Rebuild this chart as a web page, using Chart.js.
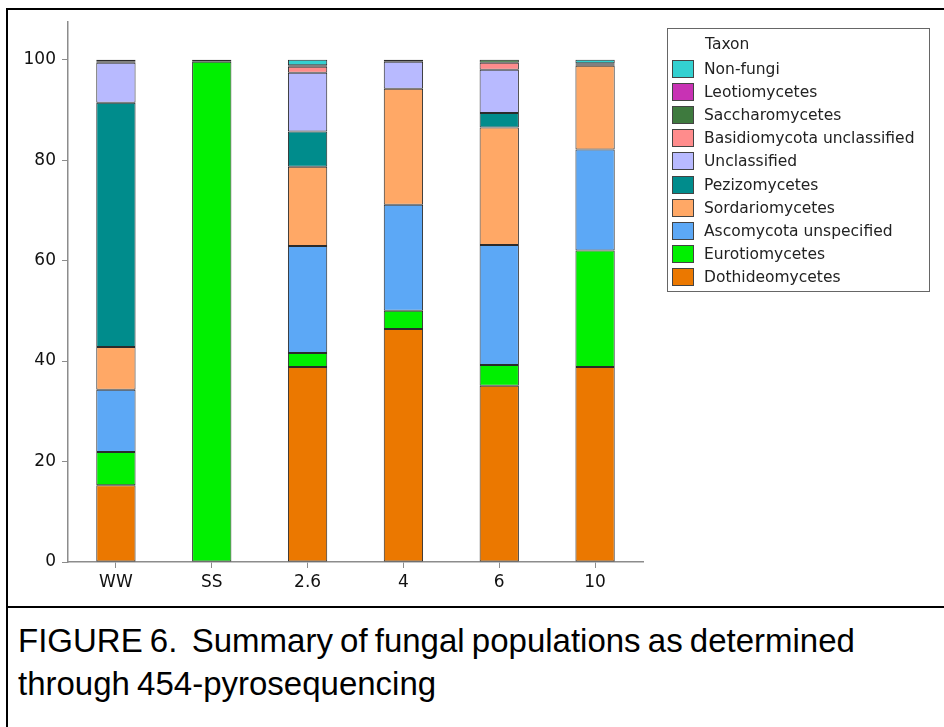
<!DOCTYPE html>
<html>
<head>
<meta charset="utf-8">
<script src="https://cdn.jsdelivr.net/npm/chart.js@4.4.1/dist/chart.umd.min.js"></script>
<style>
  body { margin: 0; background: #fff; width: 944px; height: 727px; overflow: hidden; position: relative; }
  #frame { position: absolute; left: 6px; top: 8px; width: 960px; height: 760px; border: 2px solid #000; box-sizing: border-box; }
  #divider { position: absolute; left: 6px; top: 606px; width: 960px; border-top: 2px solid #000; }
  #wrap { position: absolute; left: 0; top: 0; width: 944px; height: 606px; }
  #legend { position: absolute; left: 667px; top: 28px; width: 263px; height: 264px; border: 1px solid #666; box-sizing: border-box; font-family: "DejaVu Sans", Verdana, sans-serif; font-size: 15.5px; color: #222; }
  #legend .title { position: absolute; left: 37px; top: 6px; }
  #legend .row { position: absolute; left: 4px; height: 18px; }
  #legend .sw { position: absolute; left: 0; top: 0; width: 22px; height: 18px; border: 1px solid #444; box-sizing: border-box; }
  #legend .lb { position: absolute; left: 32px; top: 0; white-space: nowrap; line-height: 18px; }
  #caption { position: absolute; left: 18px; top: 619px; font-family: "Liberation Sans", Arial, sans-serif; font-size: 33px; line-height: 43px; word-spacing: -2px; color: #000; }
</style>
</head>
<body>
<div id="frame"></div>
<div id="divider"></div>
<div id="wrap"><canvas id="chart"></canvas></div>
<div id="legend"></div>
<div id="caption">FIGURE 6.&nbsp; Summary of fungal populations as determined<br>through 454-pyrosequencing</div>
<script>
// categories
const samples = ['WW', 'SS', '2.6', '4', '6', '10'];

// percent per taxon, bottom of stack first
const dothideomycetes = [15.3, null, 38.8, 46.4, 35.1, 38.8];
const eurotiomycetes = [6.6, 99.6, 2.8, 3.6, 4.1, 23.2];
const ascomycotaUnspecified = [12.4, null, 21.3, 21.1, 23.9, 20.1];
const sordariomycetes = [8.5, null, 15.8, 23.1, 23.4, 16.7];
const pezizomycetes = [48.6, null, 7.0, null, 2.9, 0.3];
const unclassified = [8.0, null, 11.7, 5.4, 8.6, null];
const basidiomycotaUnclassified = [null, null, 1.2, null, 1.4, null];
const saccharomycetes = [0.2, 0.4, 0.3, 0.4, 0.6, 0.2];
const leotiomycetes = [0.4, null, null, null, null, null];
const nonFungi = [null, null, 1.1, null, null, 0.7];

const yTicks = [0, 20, 40, 60, 80, 100];

const series = [
  { label: 'Dothideomycetes', data: dothideomycetes, color: '#eb7800' },
  { label: 'Eurotiomycetes', data: eurotiomycetes, color: '#00f000' },
  { label: 'Ascomycota unspecified', data: ascomycotaUnspecified, color: '#5ca8f6' },
  { label: 'Sordariomycetes', data: sordariomycetes, color: '#ffa866' },
  { label: 'Pezizomycetes', data: pezizomycetes, color: '#008c8c' },
  { label: 'Unclassified', data: unclassified, color: '#b8baff' },
  { label: 'Basidiomycota unclassified', data: basidiomycotaUnclassified, color: '#ff8c8c' },
  { label: 'Saccharomycetes', data: saccharomycetes, color: '#3e7a3e' },
  { label: 'Leotiomycetes', data: leotiomycetes, color: '#c832b4' },
  { label: 'Non-fungi', data: nonFungi, color: '#33d0d0' }
];

// legend box (top item = last dataset)
const legendEl = document.getElementById('legend');
legendEl.insertAdjacentHTML('beforeend', '<div class="title">Taxon</div>');
series.slice().reverse().forEach((s, i) => {
  legendEl.insertAdjacentHTML('beforeend',
    `<div class="row" style="top:${31 + i * 23.1}px"><div class="sw" style="background:${s.color}"></div><div class="lb">${s.label}</div></div>`);
});

const axisColor = '#8c8c8c';
const tickFont = { family: '"DejaVu Sans", Verdana, sans-serif', size: 17 };

new Chart(document.getElementById('chart').getContext('2d'), {
  type: 'bar',
  data: {
    labels: samples,
    datasets: series.map(s => ({
      label: s.label,
      data: s.data,
      backgroundColor: s.color,
      borderColor: 'rgba(20,20,20,0.9)',
      borderWidth: 1,
      borderSkipped: false,
      barPercentage: 0.41,
      categoryPercentage: 1
    }))
  },
  options: {
    responsive: true,
    maintainAspectRatio: false,
    animation: false,
    layout: { padding: { left: 23, right: 301, top: 22, bottom: 0 } },
    plugins: { legend: { display: false }, tooltip: { enabled: false } },
    scales: {
      x: {
        stacked: true,
        grid: { display: true, offset: false, drawOnChartArea: false, drawTicks: true, tickLength: 6, color: axisColor },
        border: { display: true, color: axisColor, width: 1.5 },
        ticks: { font: tickFont, color: '#111', padding: 4 },
        afterFit: s => { s.height = 44; }
      },
      y: {
        stacked: true,
        min: 0,
        max: 107.5,
        grid: { display: true, drawOnChartArea: false, drawTicks: true, tickLength: 6, color: axisColor },
        border: { display: true, color: axisColor, width: 1.5 },
        ticks: { font: tickFont, color: '#111', padding: 6 },
        afterBuildTicks: s => { s.ticks = yTicks.map(v => ({ value: v })); },
        afterFit: s => { s.width = 45; }
      }
    }
  }
});
</script>
</body>
</html>
